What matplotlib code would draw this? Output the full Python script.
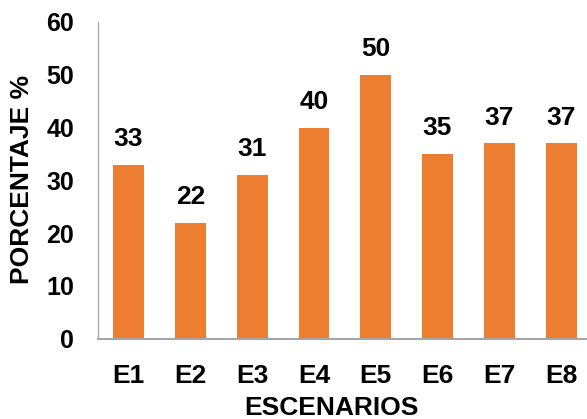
import matplotlib
matplotlib.use('Agg')
import matplotlib.pyplot as plt

# data
escenarios = ['E1', 'E2', 'E3', 'E4', 'E5', 'E6', 'E7', 'E8']
porcentaje = [33, 22, 31, 40, 50, 35, 37, 37]

plt.rcParams['font.family'] = ['Liberation Sans', 'DejaVu Sans']
plt.rcParams['font.weight'] = 'bold'

W, H = 587, 419
fig = plt.figure(figsize=(W / 100, H / 100), dpi=100)
# axes runs a little past the right edge, as in the reference
ax = fig.add_axes([97.7 / W, 1 - 338.7 / H, (592 - 97.7) / W, (338.7 - 22) / H])

x = range(len(escenarios))
bars = ax.bar(x, porcentaje, width=0.5, color='#ED7D31')
for xi, v in zip(x, porcentaje):
    ax.annotate(str(v), (xi, v), xytext=(0, 10), textcoords='offset points',
                ha='center', va='bottom', fontsize=19, fontweight='bold')

ax.set_xlim(-0.5, 7.5)
ax.set_ylim(0, 60)
ax.set_yticks(range(0, 61, 10))
ax.set_xticks(list(x))
ax.set_xticklabels(escenarios)
ax.tick_params(axis='y', length=0, pad=17, labelsize=18)
ax.tick_params(axis='x', length=0, pad=18, labelsize=19)

for s in ['top', 'right']:
    ax.spines[s].set_visible(False)
ax.spines['left'].set_color('#a6a6a6')
ax.spines['left'].set_linewidth(0.9)
ax.spines['bottom'].set_color('#a6a6a6')
ax.spines['bottom'].set_linewidth(1.5)

fig.text(331 / W, 1 - 408 / H, 'ESCENARIOS', ha='center', va='center',
         fontsize=19, fontweight='bold')
fig.text(22 / W, 1 - 179 / H, 'PORCENTAJE %', ha='center', va='center',
         rotation=90, fontsize=19, fontweight='bold')

plt.savefig('out.png', dpi=100)
plt.close(fig)
